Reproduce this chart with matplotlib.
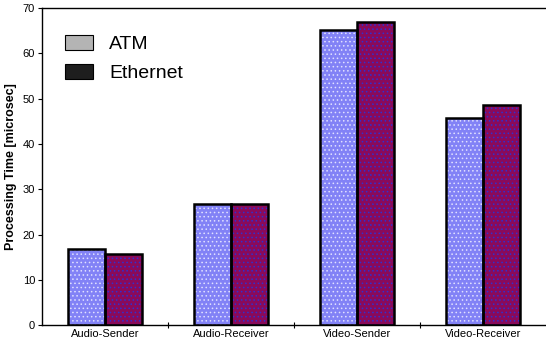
import matplotlib
matplotlib.use("Agg")
import matplotlib.pyplot as plt
import numpy as np
from matplotlib.patches import Patch

plt.rcParams['font.family'] = ['Liberation Sans', 'DejaVu Sans']
plt.rcParams['hatch.linewidth'] = 0.6

categories = ["Audio-Sender", "Audio-Receiver", "Video-Sender", "Video-Receiver"]
atm = [16.8, 26.7, 65.1, 45.8]
ethernet = [15.7, 26.7, 66.8, 48.5]
yticks = [0, 10, 20, 30, 40, 50, 60, 70]

fig = plt.figure(figsize=(5.46, 3.47), dpi=100)
ax = fig.add_axes([0.077, 0.063, 0.923, 0.914])

x = np.arange(len(categories)) + 0.5
w = 0.295

def draw_series(xpos, vals, face, dots):
    ax.bar(xpos, vals, width=w, color=face, edgecolor=dots, hatch='....',
           linewidth=0, zorder=2)
    ax.bar(xpos, vals, width=w, fill=False, edgecolor='black',
           linewidth=1.8, zorder=3)

draw_series(x - w / 2, atm, '#8282f6', '#e0e0ff')
draw_series(x + w / 2, ethernet, '#8a0a5a', '#3030d0')

ax.set_xlim(0, 4)
ax.set_ylim(0, 70)
ax.set_yticks(yticks)
ax.set_xticks(x)
ax.set_xticklabels(categories)
ax.set_xticks([1, 2, 3], minor=True)
ax.tick_params(axis='x', which='major', length=0, labelsize=8, pad=3)
ax.tick_params(axis='x', which='minor', length=4, direction='inout', width=0.8)
ax.tick_params(axis='y', length=3, width=0.8, labelsize=8, pad=2)

for s in ['left', 'bottom', 'top']:
    ax.spines[s].set_linewidth(1.0)
ax.spines['right'].set_visible(False)

ax.set_ylabel("Processing Time [microsec]", fontsize=9, fontweight='bold', labelpad=4)

handles = [Patch(facecolor='#b4b4b4', edgecolor='black', linewidth=0.8, label='ATM'),
           Patch(facecolor='#1e1e1e', edgecolor='black', linewidth=0.8, label='Ethernet')]
ax.legend(handles=handles, loc='upper left', bbox_to_anchor=(0.031, 0.94),
          frameon=False, fontsize=14, handlelength=1.4, handleheight=0.8,
          labelspacing=0.55, handletextpad=0.85, borderaxespad=0)

fig.savefig("out.png", dpi=100)
